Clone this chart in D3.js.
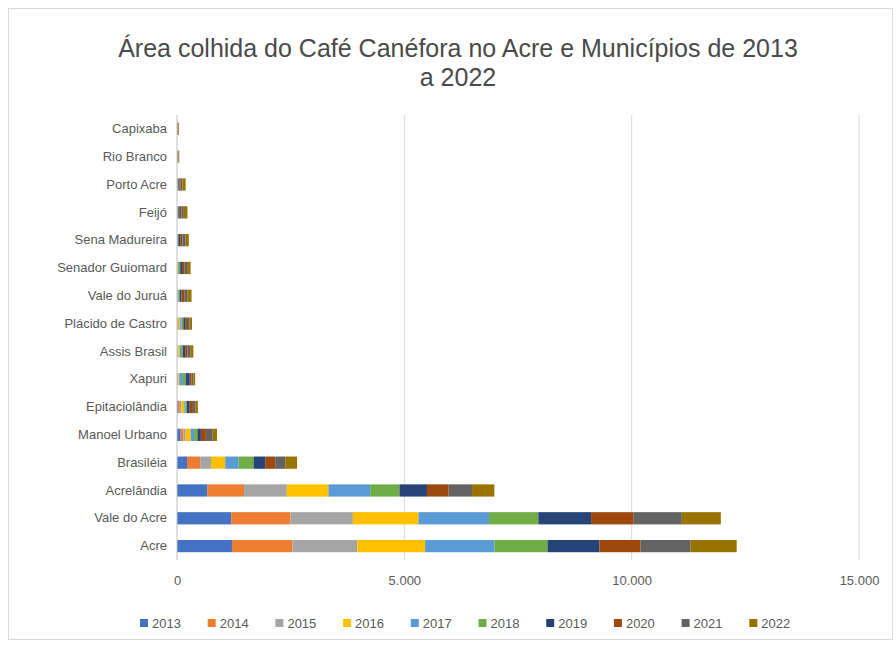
<!DOCTYPE html>
<html>
<head>
<meta charset="utf-8">
<script src="https://cdn.jsdelivr.net/npm/d3@7"></script>
<style>
  body { margin: 0; background: #fff; }
  text { font-family: "Liberation Sans", Arial, sans-serif; fill: #595959; }
</style>
</head>
<body>
<div id="chart"></div>
<script>
// categorias de cima para baixo
var municipios = ["Capixaba", "Rio Branco", "Porto Acre", "Feijó", "Sena Madureira",
  "Senador Guiomard", "Vale do Juruá", "Plácido de Castro", "Assis Brasil", "Xapuri",
  "Epitaciolândia", "Manoel Urbano", "Brasiléia", "Acrelândia", "Vale do Acre", "Acre"];

var anos = ["2013", "2014", "2015", "2016", "2017", "2018", "2019", "2020", "2021", "2022"];

// área colhida (ha) por ano, mesma ordem dos municípios
var a2013 = [0, 0, 0, 0, 0, 0, 0, 10, 0, 10, 20, 80, 220, 667, 1192, 1209];
var a2014 = [0, 0, 0, 0, 0, 0, 0, 10, 10, 10, 40, 60, 290, 808, 1306, 1328];
var a2015 = [0, 0, 0, 0, 0, 0, 0, 20, 20, 10, 40, 50, 240, 940, 1370, 1427];
var a2016 = [0, 0, 0, 0, 0, 20, 10, 30, 30, 20, 60, 110, 310, 916, 1443, 1493];
var a2017 = [0, 5, 10, 10, 10, 20, 20, 30, 30, 80, 30, 75, 295, 918, 1551, 1524];
var a2018 = [5, 5, 20, 20, 20, 30, 30, 40, 40, 60, 30, 75, 330, 645, 1086, 1167];
var a2019 = [5, 5, 20, 30, 40, 40, 40, 40, 50, 90, 60, 75, 255, 604, 1159, 1143];
var a2020 = [10, 10, 30, 40, 50, 50, 60, 40, 50, 40, 70, 110, 220, 476, 938, 905];
var a2021 = [10, 10, 40, 50, 70, 60, 70, 50, 60, 40, 60, 150, 220, 515, 1059, 1101];
var a2022 = [15, 15, 70, 80, 70, 80, 90, 60, 70, 40, 50, 95, 260, 491, 857, 1013];

var ticksX = [0, 5000, 10000, 15000];
var cores = ["#4472C4", "#ED7D31", "#A5A5A5", "#FFC000", "#5B9BD5",
  "#70AD47", "#264478", "#9E480E", "#636363", "#997300"];

var series = [a2013, a2014, a2015, a2016, a2017, a2018, a2019, a2020, a2021, a2022];

// monta a tabela para o d3.stack
var tabela = municipios.map(function (m, i) {
  var linha = { municipio: m };
  anos.forEach(function (a, j) { linha[a] = series[j][i]; });
  return linha;
});

var W = 896, H = 646;
var margin = { left: 177, right: 37, top: 115, bottom: 86 };
var w = W - margin.left - margin.right;
var h = H - margin.top - margin.bottom;

var svg = d3.select("#chart").append("svg")
  .attr("width", W).attr("height", H);

// moldura do gráfico
svg.append("rect")
  .attr("x", 8.5).attr("y", 8.5)
  .attr("width", 884).attr("height", 631)
  .attr("fill", "#fff").attr("stroke", "#d9d9d9");

svg.append("text")
  .attr("x", 458).attr("y", 57)
  .attr("text-anchor", "middle")
  .style("font-size", "25px")
  .attr("fill", "#4a4a4a")
  .style("fill", "#4a4a4a")
  .text("Área colhida do Café Canéfora no Acre e Municípios de 2013");
svg.append("text")
  .attr("x", 458).attr("y", 86)
  .attr("text-anchor", "middle")
  .style("font-size", "25px")
  .style("fill", "#4a4a4a")
  .text("a 2022");

var g = svg.append("g")
  .attr("transform", "translate(" + margin.left + "," + margin.top + ")");

var x = d3.scaleLinear().domain([0, 15000]).range([0, w]);
var y = d3.scaleBand().domain(municipios).range([0, h]).paddingInner(0.56).paddingOuter(0.28);

// grade
g.selectAll("line.grade")
  .data(ticksX.slice(1))
  .enter().append("line")
  .attr("class", "grade")
  .attr("x1", function (d) { return x(d); })
  .attr("x2", function (d) { return x(d); })
  .attr("y1", 0).attr("y2", h)
  .attr("stroke", "#d9d9d9");

var stack = d3.stack().keys(anos);
var camadas = stack(tabela);

g.selectAll("g.serie")
  .data(camadas)
  .enter().append("g")
  .attr("class", "serie")
  .attr("fill", function (d, i) { return cores[i]; })
  .selectAll("rect")
  .data(function (d) { return d; })
  .enter().append("rect")
  .attr("x", function (d) { return x(d[0]); })
  .attr("width", function (d) { return x(d[1]) - x(d[0]); })
  .attr("y", function (d) { return y(d.data.municipio); })
  .attr("height", y.bandwidth());

// eixo vertical
g.append("line")
  .attr("x1", 0).attr("x2", 0).attr("y1", 0).attr("y2", h)
  .attr("stroke", "#bfbfbf");

var eixoY = g.append("g").call(d3.axisLeft(y).tickSize(0).tickPadding(10));
eixoY.select(".domain").remove();
eixoY.selectAll("text").style("font-size", "13px").attr("fill", "#595959");

var eixoX = g.append("g")
  .attr("transform", "translate(0," + (h + 8) + ")")
  .call(d3.axisBottom(x).tickValues(ticksX).tickSize(0).tickPadding(8)
    .tickFormat(function (d) { return d3.format(",")(d).replace(/,/g, "."); }));
eixoX.select(".domain").remove();
eixoX.selectAll("text").style("font-size", "13px").attr("fill", "#595959");

// legenda
var leg = svg.append("g").attr("transform", "translate(140,623)");
var item = leg.selectAll("g")
  .data(anos)
  .enter().append("g")
  .attr("transform", function (d, i) { return "translate(" + (i * 67.7) + ",0)"; });
item.append("rect")
  .attr("x", 0).attr("y", -4).attr("width", 8).attr("height", 8)
  .attr("fill", function (d, i) { return cores[i]; });
item.append("text")
  .attr("x", 12).attr("y", 5)
  .style("font-size", "13px")
  .text(function (d) { return d; });
</script>
</body>
</html>
